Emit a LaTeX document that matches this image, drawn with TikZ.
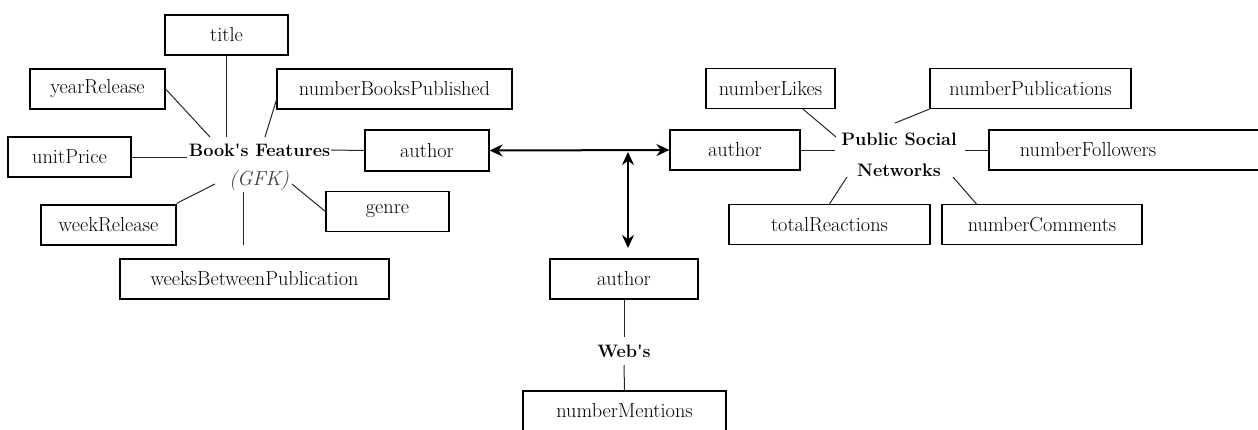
\documentclass[tikz,border=0pt]{standalone}
\usepackage{fontspec}
\setmainfont{Latin Modern Roman}[Ligatures=TeXOff]
\usetikzlibrary{arrows.meta,calc}
\begin{document}
\begin{tikzpicture}[x=1pt,y=-1pt,
  every node/.style={font=\rmfamily\fontsize{20.3}{24}\selectfont},
  box/.style={draw=black,line width=1.2pt,rectangle,minimum height=40pt,inner sep=0pt},
  lbl/.style={inner sep=1pt,font=\rmfamily\fontsize{18}{24}\selectfont\bfseries},
  conn/.style={draw=black!85,line width=1pt},
  biarrow/.style={line width=2pt,{Stealth[length=13pt,width=12pt]}-{Stealth[length=13pt,width=12pt]}}]
\useasboundingbox (0,0) rectangle (1258,429);
\clip (0,0) rectangle (1258,429);
% Book's Features cluster
\node[box,minimum width=123pt] (title) at (226.5,35) {title};
\node[box,minimum width=135pt] (yr) at (97.5,89) {yearRelease};
\node[box,minimum width=235pt] (nbp) at (394.5,89) {numberBooksPublished};
\node[box,minimum width=123pt] (up) at (69.5,157) {unitPrice};
\node[lbl] (bf) at (259.5,150) {Book's Features};
\node[inner sep=0pt,text=black!75,font=\rmfamily\fontsize{20.3}{24}\selectfont\itshape] (gfk) at (259,180) {(GFK)};
\node[box,minimum width=124pt,minimum height=41pt] (aL) at (427,150.5) {author};
\node[box,minimum width=123pt] (genre) at (387.5,211.5) {genre};
\node[box,minimum width=135pt] (wr) at (108.5,225) {weekRelease};
\node[box,minimum width=269pt] (wbp) at (254.5,279) {weeksBetweenPublication};
% Web's cluster
\node[box,minimum width=148pt] (aB) at (624,279) {author};
\node[lbl] (web) at (624,351) {Web's};
\node[box,minimum width=203pt] (nm) at (624.5,411) {numberMentions};
% Public Social Networks cluster
\node[box,minimum width=130pt] (aR) at (735,150) {author};
\node[lbl,align=center,font=\rmfamily\fontsize{18}{31}\selectfont\bfseries] (psn) at (899,155) {Public Social\\Networks};
\node[box,minimum width=129pt] (nl) at (770.5,88.5) {numberLikes};
\node[box,minimum width=201pt] (np) at (1030.5,88.5) {numberPublications};
\node[box,minimum width=291pt] (nf) at (1134.5,150) {numberFollowers\hspace*{93pt}};
\node[box,minimum width=201pt] (tr) at (829.5,224.5) {totalReactions};
\node[box,minimum width=200pt] (nc) at (1042,224.5) {numberComments};
% free ends
\coordinate (tEnd) at (226.5,137);
\coordinate (yEnd) at (210,137);
\coordinate (nEnd) at (265,137);
\coordinate (uEnd) at (187,157);
\coordinate (wEnd) at (215,184);
\coordinate (wbTop) at (243,192);
\coordinate (wbBot) at (243,245);
\coordinate (gEnd) at (292,184);
\coordinate (vTop) at (628,152);
\coordinate (vBot) at (628,248);
\coordinate (abEnd) at (624,337);
\coordinate (nmEnd) at (624,365);
\coordinate (nlEnd) at (836,137);
\coordinate (npEnd) at (895,123);
\coordinate (arEnd) at (835,150);
\coordinate (nfEnd) at (965,150);
\coordinate (trEnd) at (847,177);
\coordinate (ncEnd) at (953,177);
% connectors
\draw[conn] (title.south) -- (tEnd);
\draw[conn] (yr.east) -- (yEnd);
\draw[conn] ($(nbp.west)+(0,11)$) -- (nEnd);
\draw[conn] (up.east) -- (uEnd);
\draw[conn] (bf.east) -- (aL.west);
\draw[conn] ($(wr.north east)+(0,-1)$) -- (wEnd);
\draw[conn] (wbTop) -- (wbBot);
\draw[conn] (gEnd) -- (genre.west);
\draw[biarrow] (aL.east) -- (aR.west);
\draw[biarrow] (vTop) -- (vBot);
\draw[conn] (aB.south) -- (abEnd);
\draw[conn] (nmEnd) -- (nm.north);
\draw[conn] ($(nl.south)+(32.5,0)$) -- (nlEnd);
\draw[conn] (np.south west) -- (npEnd);
\draw[conn] (aR.east) -- (arEnd);
\draw[conn] (nfEnd) -- (nf.west);
\draw[conn] (trEnd) -- (tr.north);
\draw[conn] (ncEnd) -- ($(nc.north west)+(35,0)$);
\end{tikzpicture}
\end{document}
